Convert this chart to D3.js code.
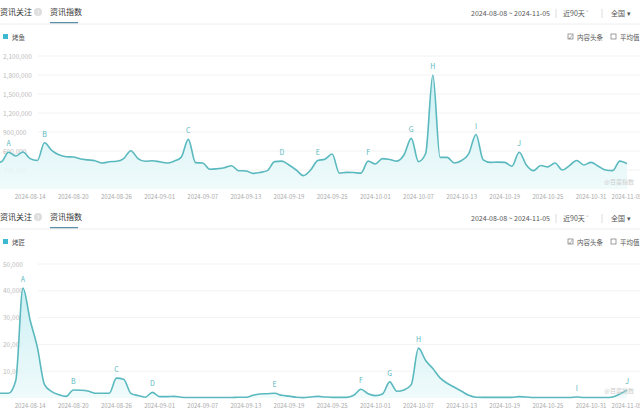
<!DOCTYPE html>
<html><head><meta charset="utf-8">
<script src="https://cdn.jsdelivr.net/npm/d3@7"></script>
<style>
body{margin:0;background:#fff;font-family:"Noto Sans CJK SC","Noto Sans",sans-serif;}
</style></head><body>
<svg id="chart" width="640" height="416"></svg>
<script>
// data: daily values 2024-08-08 .. 2024-11-05
var startDate = "2024-08-08";
var tickDates = ["2024-08-14","2024-08-20","2024-08-26","2024-09-01","2024-09-07","2024-09-13","2024-09-19","2024-09-25","2024-10-01","2024-10-07","2024-10-13","2024-10-19","2024-10-25","2024-10-31","2024-11-05"];

var topValues = [400000,410000,430000,580000,520000,585000,480000,450000,730000,610000,
  540000,510000,505000,474000,460000,447000,410000,430000,437000,480000,
  605000,480000,437000,447000,430000,410000,440000,500000,784000,416000,
  410000,311000,320000,335000,368000,289000,285000,247000,262000,290000,
  432000,440000,379000,300000,211000,300000,450000,470000,553000,250000,
  263000,260000,250000,440000,395000,480000,465000,440000,540000,800000,
  432000,560000,1800000,500000,500000,410000,450000,560000,860000,460000,
  420000,425000,420000,360000,580000,380000,290000,370000,350000,410000,
  300000,370000,450000,380000,420000,360000,300000,290000,440000,400000];
var topTicks = [300000,600000,900000,1200000,1500000,1800000,2100000];
var topMarks = [["A",3],["B",8],["C",28],["D",41],["E",46],["F",53],["G",59],["H",62],["I",68],["J",74]];

var botValues = [1700,1750,1750,1750,6500,41000,29000,19000,5000,2400,
  1200,600,3000,2900,2600,1800,1750,1750,7400,7000,
  1750,900,300,2100,500,500,600,300,200,200,
  200,200,200,200,200,300,300,1000,1500,1600,
  1750,1000,700,300,150,400,600,400,250,250,
  250,1000,3250,1600,900,1500,6000,2500,3000,5000,
  18600,14000,11000,7500,5500,4000,2500,1000,300,250,
  250,250,250,250,500,400,200,200,200,200,
  200,200,400,200,200,200,200,400,1500,3000];
var botTicks = [10000,20000,30000,40000,50000];
var botMarks = [["A",5],["B",12],["C",18],["D",23],["E",40],["F",52],["G",56],["H",60],["I",82],["J",89]];

var svg = d3.select("#chart");
var parse = d3.timeParse("%Y-%m-%d");
var t0 = parse(startDate);
var teal = "#5ab9be", grey = "#aaa";

var x = d3.scaleTime()
  .domain([t0, d3.timeDay.offset(t0, 89)])
  .range([-13, 627]);

var defs = svg.append("defs");
var grad = defs.append("linearGradient").attr("id","fillg").attr("x1",0).attr("y1",0).attr("x2",0).attr("y2",1);
grad.append("stop").attr("offset","0%").attr("stop-color","#c8eef2").attr("stop-opacity",0.9);
grad.append("stop").attr("offset","100%").attr("stop-color","#eefafb").attr("stop-opacity",0.9);
defs.append("clipPath").attr("id","clip").append("rect").attr("x",0).attr("y",0).attr("width",640).attr("height",416);

function panel(oy, values, ticks, y0, y1, name, marks) {
  var g = svg.append("g").attr("transform","translate(0,"+oy+")");
  var y = d3.scaleLinear().domain([0, ticks[ticks.length-1]]).range([y0, y1]);

  // header
  g.append("text").attr("x",0).attr("y",15).attr("font-size",8).attr("fill","#333").text("资讯关注");
  g.append("circle").attr("cx",38).attr("cy",12).attr("r",4).attr("fill","#ddd");
  g.append("text").attr("x",38).attr("y",14.5).attr("font-size",6).attr("fill","#fff").attr("text-anchor","middle").text("?");
  g.append("text").attr("x",50).attr("y",15).attr("font-size",8).attr("fill","#333").text("资讯指数");
  g.append("rect").attr("x",50).attr("y",22).attr("width",28).attr("height",1.5).attr("fill","#5a8fa8");
  g.append("line").attr("x1",0).attr("x2",640).attr("y1",24).attr("y2",24).attr("stroke","#eee");
  g.append("text").attr("x",550).attr("y",16).attr("font-size",7).attr("fill","#555").attr("text-anchor","end").text("2024-08-08 ~ 2024-11-05");
  g.append("line").attr("x1",556).attr("x2",556).attr("y1",9).attr("y2",18).attr("stroke","#ddd");
  g.append("text").attr("x",563).attr("y",16).attr("font-size",7).attr("fill","#555").text("近90天  ˅");
  g.append("line").attr("x1",602).attr("x2",602).attr("y1",9).attr("y2",18).attr("stroke","#ddd");
  g.append("text").attr("x",611).attr("y",16).attr("font-size",7).attr("fill","#555").text("全国  ▾");

  // legend
  g.append("rect").attr("x",3).attr("y",34).attr("width",5).attr("height",5).attr("fill","#3cb8d0");
  g.append("text").attr("x",12).attr("y",39.5).attr("font-size",6.5).attr("fill","#555").text(name);
  g.append("rect").attr("x",568).attr("y",34).attr("width",5).attr("height",5).attr("fill","none").attr("stroke","#777").attr("stroke-width",0.7);
  g.append("text").attr("x",570.5).attr("y",38.8).attr("font-size",5).attr("fill","#555").attr("text-anchor","middle").text("✓");
  g.append("text").attr("x",577).attr("y",39.5).attr("font-size",6.5).attr("fill","#555").text("内容头条");
  g.append("rect").attr("x",611).attr("y",34).attr("width",5).attr("height",5).attr("fill","none").attr("stroke","#777").attr("stroke-width",0.7);
  g.append("text").attr("x",620).attr("y",39.5).attr("font-size",6.5).attr("fill","#555").text("平均值");

  // grid + y labels
  g.selectAll(".grid").data(ticks).enter().append("line")
    .attr("x1",38).attr("x2",640).attr("y1",function(d){return y(d);}).attr("y2",function(d){return y(d);})
    .attr("stroke","#f2f2f2");
  g.selectAll(".yl").data(ticks).enter().append("text")
    .attr("x",3).attr("y",function(d){return y(d)+2.5;})
    .attr("font-size",6.5).attr("fill","#bbb").text(d3.format(","));

  // x labels
  g.selectAll(".xl").data(tickDates).enter().append("text")
    .attr("x",function(d){return x(parse(d));}).attr("y",y0+10)
    .attr("font-size",6).attr("fill","#aaa").attr("text-anchor","middle").text(function(d){return d;});

  var pts = values.map(function(v,i){return [d3.timeDay.offset(t0,i), v];});
  var area = d3.area().curve(d3.curveMonotoneX)
    .x(function(d){return x(d[0]);}).y0(y0).y1(function(d){return y(d[1]);});
  var line = d3.line().curve(d3.curveMonotoneX)
    .x(function(d){return x(d[0]);}).y(function(d){return y(d[1]);});
  g.append("path").datum(pts).attr("d",area).attr("fill","url(#fillg)").attr("clip-path","url(#clip)");
  g.append("path").datum(pts).attr("d",line).attr("fill","none").attr("stroke",teal).attr("stroke-width",1.6).attr("clip-path","url(#clip)");

  // event marks
  g.selectAll(".mk").data(marks).enter().append("text")
    .attr("x",function(d){return x(d3.timeDay.offset(t0,d[1]));})
    .attr("y",function(d){return y(values[d[1]])-6;})
    .attr("font-size",7).attr("fill",teal).attr("text-anchor","middle").text(function(d){return d[0];});

  g.append("text").attr("x",634).attr("y",y0-5).attr("font-size",6).attr("fill","#ccc").attr("text-anchor","end").text("@百度指数");
}

panel(0, topValues, topTicks, 189, 56, "烤鱼", topMarks);
panel(205, botValues, botTicks, 193, 59, "烤匠", botMarks);
</script>
</body></html>
